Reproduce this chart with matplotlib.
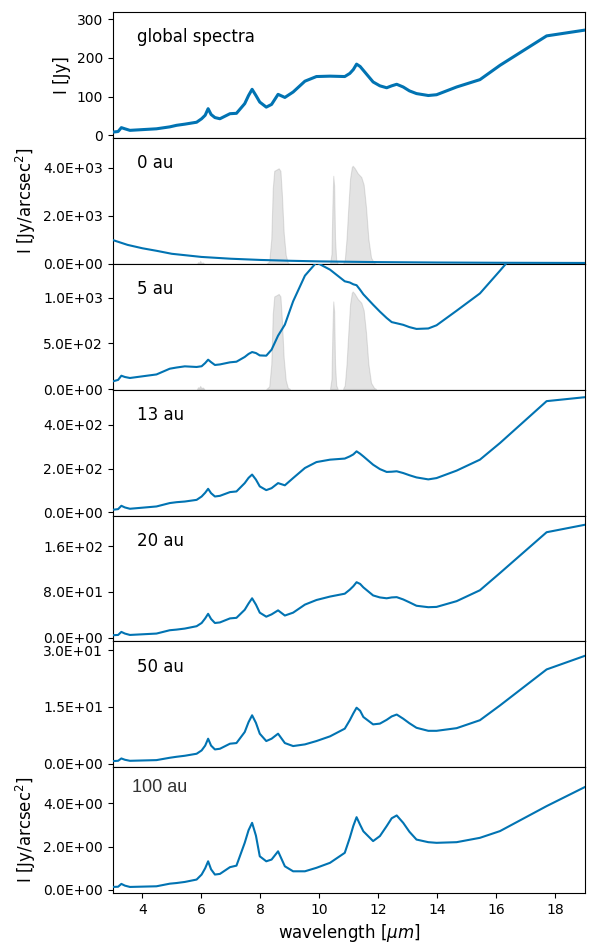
import numpy as np
import matplotlib
matplotlib.use('Agg')
import matplotlib.pyplot as plt
from matplotlib.ticker import FormatStrFormatter

# wavelength grid (micron) shared by the ring spectra
wl = [3.0, 3.18, 3.29, 3.41, 3.58, 4.48, 4.93, 5.16, 5.44, 5.84,
      6.01, 6.13, 6.23, 6.33, 6.46, 6.63, 6.97, 7.19, 7.47, 7.6,
      7.72, 7.85, 7.98, 8.2, 8.38, 8.6, 8.83, 9.11, 9.51, 9.9,
      10.36, 10.86, 11.03, 11.15, 11.26, 11.38, 11.49, 11.82, 12.05, 12.28,
      12.45, 12.62, 12.84, 13.05, 13.29, 13.69, 13.97, 14.65, 15.44, 16.12,
      17.7, 19.0]

global_spec = [8.5, 10, 20, 17, 13, 17, 22, 26, 29, 34,
               43, 52, 69, 54, 46, 43, 56, 57, 82, 103,
               119, 103, 86, 73, 80, 106, 98, 112, 140, 152,
               153, 152, 160, 170, 184, 178, 168, 138, 128, 123,
               128, 132, 125, 115, 108, 103, 105, 125, 144, 181,
               257, 272]

# 0 au is a smooth continuum, own sampling
wl_0au = [3.0, 3.5, 4.0, 4.5, 5.0, 6.0, 7.0, 8.0, 9.0, 10.0, 12.0, 14.0, 16.0, 19.0]
spec_0au = [990, 790, 650, 540, 420, 290, 215, 165, 130, 105, 75, 58, 48, 40]

spec_5au = [84, 100, 146, 132, 121, 160, 223, 236, 249, 242,
            250, 285, 322, 295, 264, 270, 293, 300, 352, 385,
            406, 395, 369, 366, 432, 586, 707, 963, 1245, 1390,
            1311, 1183, 1170, 1150, 1140, 1090, 1040, 926, 850, 780,
            735, 722, 705, 680, 660, 665, 700, 860, 1050, 1300,
            1900, 2000]

spec_13au = [12.4, 15.4, 30.6, 23, 17, 27.5, 43, 47, 50, 57.6,
             72.9, 90, 108, 88, 73, 76, 93, 96, 134, 158,
             173, 150, 119, 102, 111, 134, 124, 157, 203, 230,
             241, 246, 256, 265, 279, 268, 256, 218, 198, 185,
             186, 188, 180, 170, 160, 151, 157, 191, 241, 317,
             508, 526]

spec_20au = [4.7, 5.2, 10.5, 7.6, 5.2, 7.6, 13.4, 14.5, 16.3, 20.4,
             26, 34, 42, 33, 26, 27, 34, 35, 49, 60,
             69, 58, 44, 37, 41, 48, 39, 44, 58, 66,
             72, 77, 84, 90, 97, 94, 88, 74, 70.5, 69,
             70.5, 71, 67, 62, 56, 53.5, 54, 64, 83, 113,
             184, 197]

spec_50au = [0.71, 0.79, 1.41, 1.06, 0.79, 0.97, 1.59, 1.85, 2.12, 2.65,
             3.53, 4.8, 6.62, 4.8, 3.79, 3.97, 5.3, 5.47, 8.38, 11.0,
             12.8, 10.8, 7.94, 6.0, 6.62, 7.94, 5.47, 4.68, 5.12, 6.0,
             7.24, 9.27, 11.5, 13.3, 14.8, 14.0, 12.35, 10.4, 10.6, 11.6,
             12.5, 13.0, 11.9, 10.7, 9.5, 8.7, 8.7, 9.4, 11.5, 15.4,
             24.9, 28.5]

spec_100au = [0.14, 0.15, 0.28, 0.2, 0.14, 0.17, 0.29, 0.32, 0.37, 0.48,
              0.71, 1.0, 1.32, 0.95, 0.71, 0.74, 1.05, 1.12, 2.17, 2.75,
              3.09, 2.5, 1.55, 1.32, 1.4, 1.78, 1.09, 0.86, 0.86, 1.02,
              1.25, 1.71, 2.4, 2.95, 3.35, 3.0, 2.7, 2.25, 2.48, 2.94,
              3.3, 3.43, 3.09, 2.68, 2.32, 2.2, 2.17, 2.2, 2.4, 2.71,
              3.86, 4.74]

# filter transmission curves
filt_a_wl = [8.2, 8.3, 8.37, 8.42, 8.47, 8.55, 8.62, 8.68, 8.73, 8.79, 8.86, 8.93, 9.0]
filt_a_tr = [0.0, 0.02, 0.2, 0.6, 0.74, 0.75, 0.76, 0.74, 0.55, 0.25, 0.07, 0.01, 0.0]
filt_b_wl = [10.36, 10.41, 10.44, 10.47, 10.5, 10.53, 10.57, 10.62]
filt_b_tr = [0.0, 0.08, 0.45, 0.70, 0.62, 0.2, 0.03, 0.0]
filt_c_wl = [10.8, 10.86, 10.92, 10.98, 11.04, 11.1, 11.13, 11.2, 11.3, 11.42, 11.5,
             11.58, 11.66, 11.75, 11.85, 11.92]
filt_c_tr = [0.0, 0.03, 0.2, 0.45, 0.68, 0.77, 0.78, 0.76, 0.72, 0.69, 0.63,
             0.45, 0.2, 0.05, 0.01, 0.0]
filt_d_wl = [5.85, 5.9, 5.93, 5.96, 6.0, 6.05, 6.1]
filt_d_tr = [0.0, 0.015, 0.006, 0.025, 0.008, 0.012, 0.0]

labels = ['global spectra', '0 au', '5 au', '13 au', '20 au', '50 au', '100 au']
ylims = [(-7, 318), (0, 5220), (-8, 1374), (-14, 560), (-6, 213), (-0.9, 32.3), (-0.14, 5.65)]
yticks = [[0, 100, 200, 300], [0, 2e3, 4e3], [0, 5e2, 1e3], [0, 2e2, 4e2],
          [0, 8e1, 1.6e2], [0, 1.5e1, 3.0e1], [0, 2, 4]]

blue = '#0173B2'

fig, axes = plt.subplots(7, 1, figsize=(6, 9.44), sharex=True)
fig.subplots_adjust(left=0.188, right=0.975, top=0.987, bottom=0.054, hspace=0)

curves = [(wl, global_spec), (wl_0au, spec_0au), (wl, spec_5au), (wl, spec_13au),
          (wl, spec_20au), (wl, spec_50au), (wl, spec_100au)]

for i, ax in enumerate(axes):
    x, y = curves[i]
    ax.plot(x, y, color=blue, lw=2.2 if i == 0 else 1.5, zorder=3)
    ax.set_ylim(*ylims[i])
    ax.set_yticks(yticks[i])
    if i > 0:
        ax.yaxis.set_major_formatter(FormatStrFormatter('%.1E'))
    if i in (1, 2):
        top = ylims[i][1]
        for fw, ft in [(filt_a_wl, filt_a_tr), (filt_b_wl, filt_b_tr),
                       (filt_c_wl, filt_c_tr), (filt_d_wl, filt_d_tr)]:
            ax.fill_between(fw, 0, np.array(ft) * top, color='gray', alpha=0.22,
                            lw=0.8, zorder=1)
    if i < 6:
        ax.tick_params(axis='x', bottom=False, labelbottom=False)
    ax.tick_params(labelsize=10)
    if i == 6:
        ax.text(0.041, 0.84, labels[i], transform=ax.transAxes, fontsize=13,
                family='Liberation Sans', color='#333333', va='center')
    else:
        ax.text(0.051, 0.8, labels[i], transform=ax.transAxes, fontsize=12, va='center')

axes[0].set_xlim(3, 19)
axes[0].set_ylabel('I [Jy]', fontsize=12)
axes[1].set_ylabel('I [Jy/arcsec$^2$]', fontsize=12)
axes[6].set_ylabel('I [Jy/arcsec$^2$]', fontsize=12)
axes[6].set_xlabel('wavelength [$\\mu m$]', fontsize=12)
axes[6].set_xticks([4, 6, 8, 10, 12, 14, 16, 18])

fig.savefig('out.png', dpi=100)
